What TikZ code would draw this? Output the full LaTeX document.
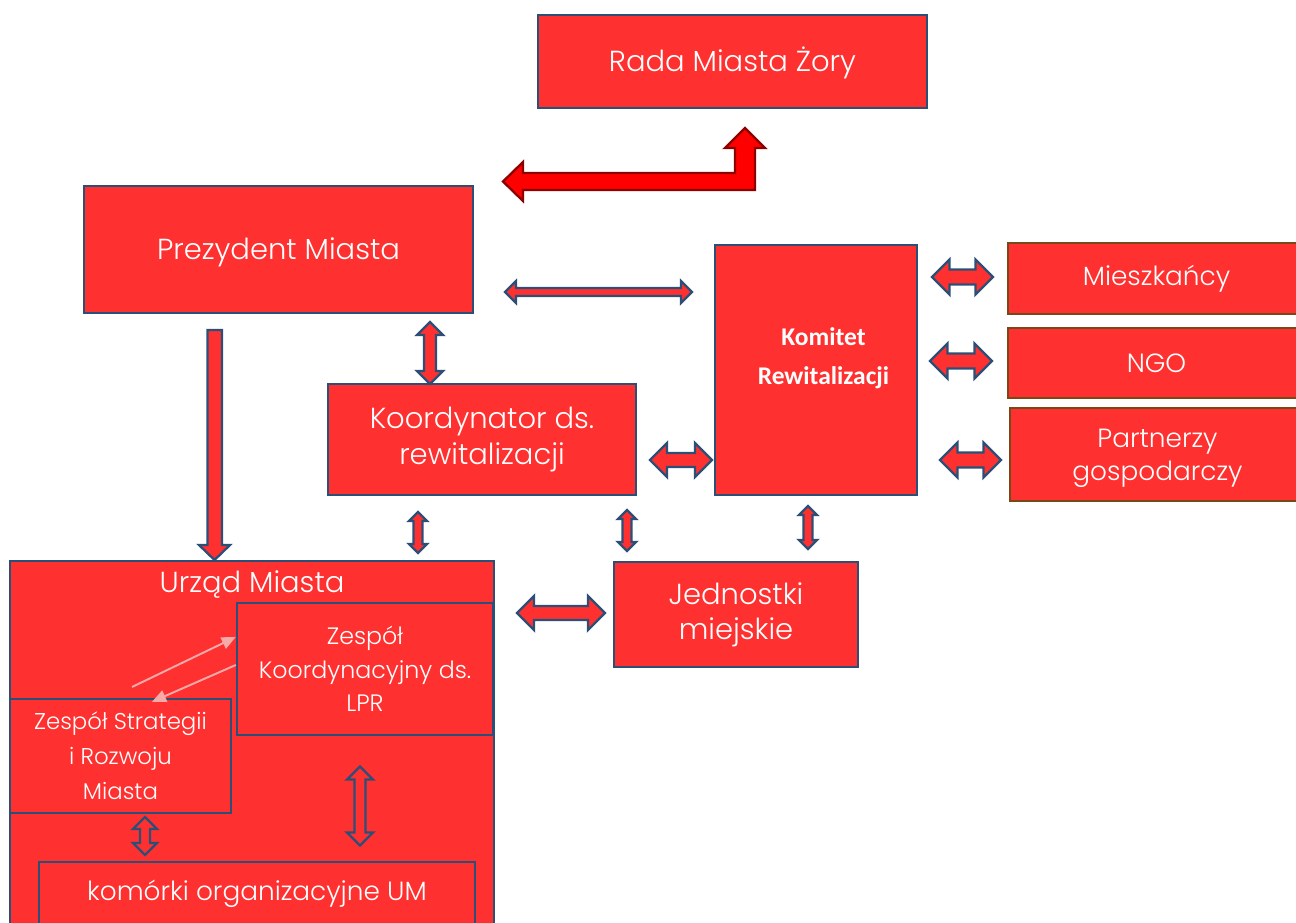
\documentclass[tikz,border=0pt]{standalone}
\usepackage{fontspec}
\IfFontExistsTF{Poppins Light}{\setmainfont{Poppins Light}}{\setmainfont{Poppins}}
\newfontfamily\komfont{Carlito}
\usepackage{tikz}
\usetikzlibrary{arrows.meta, positioning, calc}
\definecolor{boxred}{RGB}{255,48,48}
\definecolor{edgeblue}{RGB}{44,79,120}
\definecolor{edgebrown}{RGB}{122,72,24}
\definecolor{bigred}{RGB}{255,0,0}
\definecolor{bigedge}{RGB}{140,0,0}
\definecolor{pinkline}{RGB}{246,170,170}

\tikzset{
    box/.style={draw=edgeblue, line width=1.4pt, fill=boxred, text=white, align=center, inner sep=2pt},
    sidebox/.style={box, draw=edgebrown},
    bigtext/.style={font=\fontsize{16.5}{20}\selectfont},
    midtext/.style={font=\fontsize{15}{19}\selectfont},
    smalltext/.style={font=\fontsize{13.5}{19}\selectfont},
    lowtext/.style={text height=1.15em, text depth=0pt},
    arrowline/.style={draw=edgeblue, line width=1.3pt, fill=boxred, line join=miter},
    bigarrow/.style={draw=bigedge, line width=1.3pt, fill=bigred},
    pinkarrow/.style={draw=pinkline, line width=1.1pt, -{Triangle[length=8pt, width=7pt]}},
    pics/dblarrow/.style args={#1/#2/#3}{code={
        \filldraw[arrowline] (-#1/2,0) -- (-#1/2+#3,#3) -- (-#1/2+#3,#2) -- (#1/2-#3,#2)
            -- (#1/2-#3,#3) -- (#1/2,0) -- (#1/2-#3,-#3) -- (#1/2-#3,-#2)
            -- (-#1/2+#3,-#2) -- (-#1/2+#3,-#3) -- cycle;
    }}
}

\begin{document}
\begin{tikzpicture}[x=0.02cm, y=-0.02cm]
    \useasboundingbox (0,0) rectangle (1296,923);
    \clip (0,0) rectangle (1296,923);

    % Top level
    \node[box, bigtext, lowtext, minimum width=7.78cm, minimum height=1.86cm] (rada) at (732.5,61.5) {Rada Miasta Żory};
    \node[box, bigtext, lowtext, minimum width=7.78cm, minimum height=2.54cm] (prez) at (278.5,249.5) {Prezydent Miasta};
    \node[box, minimum width=4.04cm, minimum height=5.0cm] (komitet) at (816,370) {};
    \node[text=white, align=center, font=\komfont\bfseries\fontsize{14.5}{22}\selectfont] (komlbl)
        at ([xshift=0.15cm, yshift=0.24cm]komitet.center) {Komitet\\Rewitalizacji};
    \node[box, bigtext, minimum width=6.16cm, minimum height=2.22cm] (koord) at (482,439.5) {Koordynator ds.\\rewitalizacji};
    \node[box, bigtext, minimum width=4.88cm, minimum height=2.10cm] (jedn) at (736,614.5) {Jednostki\\miejskie};

    % Partners
    \node[sidebox, midtext, minimum width=5.94cm, minimum height=1.42cm] (mieszk) at (1156.5,278.5) {Mieszkańcy};
    \node[sidebox, midtext, minimum width=5.94cm, minimum height=1.40cm] (ngo) at (1156.5,363) {NGO};
    \node[sidebox, midtext, text depth=0pt, minimum width=5.90cm, minimum height=1.86cm] (partn) at (1157.5,454.5) {Partnerzy\\gospodarczy};

    % Urzad Miasta
    \node[box, minimum width=9.68cm, minimum height=7.28cm] (urzad) at (252,743) {};
    \node[bigtext, text=white, below=0.1cm of urzad.north] (urzadlbl) {Urząd Miasta};
    \node[box, smalltext, minimum width=5.12cm, minimum height=2.64cm] (zkoord) at (365,669) {Zespół\\Koordynacyjny ds.\\LPR};
    \node[box, font=\fontsize{13}{20}\selectfont, minimum width=4.42cm, minimum height=2.28cm] (zstrat) at (120.5,756) {Zespół Strategii\\i Rozwoju\\Miasta};
    \node[box, midtext, minimum width=8.72cm, minimum height=1.26cm] (komorki) at (257,893.5) {komórki organizacyjne UM};

    % Big arrow
    \filldraw[bigarrow] (503,181.5) -- (523,162) -- (523,173) -- (735,173) -- (735,148) -- (725,148)
        -- (745,128) -- (765,148) -- (755,148) -- (755,190) -- (523,190) -- (523,201) -- cycle;

    % Prezydent -> Urzad
    \filldraw[arrowline] (207.5,330) -- (222,330) -- (222,545) -- (230,545) -- (214.5,560)
        -- (199,545) -- (207.5,545) -- cycle;

    % Double arrows
    \pic at (598.5,292) {dblarrow=187/4/11};
    \pic[rotate=90] at (430,353) {dblarrow=62/6/13};
    \pic[rotate=90] at (418,532.5) {dblarrow=41/4.5/9};
    \pic[rotate=90] at (627,530.5) {dblarrow=41/4.5/9};
    \pic[rotate=90] at (808,527.5) {dblarrow=43/4.5/9};
    \pic at (681,460) {dblarrow=62/7/17};
    \pic at (962.5,277) {dblarrow=61/7.5/17.5};
    \pic at (961,361) {dblarrow=62/7.5/17.5};
    \pic at (970.5,460) {dblarrow=61/7.5/17.5};
    \pic at (561,613) {dblarrow=88/7/17};
    \pic[rotate=90] at (145,836) {dblarrow=38/5/12};
    \pic[rotate=90] at (360,806) {dblarrow=79/5.5/13};

    % Inside the office
    \coordinate (pstart) at (132,687);
    \draw[pinkarrow] (pstart) -- ([yshift=0.64cm]zkoord.west);
    \draw[pinkarrow] ([yshift=0.08cm]zkoord.west) -- ([xshift=0.63cm,yshift=-0.08cm]zstrat.north);
\end{tikzpicture}
\end{document}
